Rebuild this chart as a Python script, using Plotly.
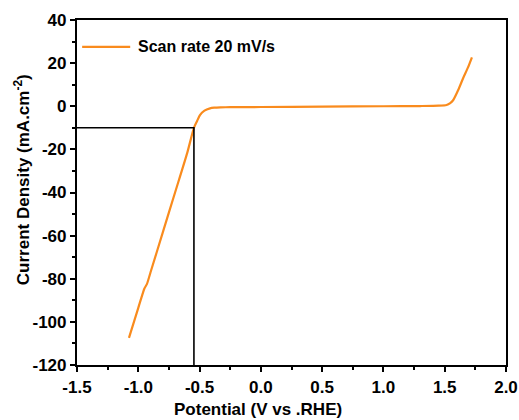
import plotly.graph_objects as go

# LSV curve
potential = [-1.076, -1.0, -0.95, -0.93, -0.9, -0.8, -0.7, -0.6, -0.546, -0.52, -0.497,
             -0.46, -0.415, -0.38, -0.33, -0.25, 0.0, 0.5, 1.0, 1.3, 1.45, 1.515,
             1.545, 1.57, 1.61, 1.65, 1.69, 1.722]
current = [-107.4, -93.5, -84.5, -82.5, -77.0, -58.5, -40.0, -21.5, -10.0, -6.8, -4.1,
           -2.0, -0.96, -0.65, -0.5, -0.45, -0.35, -0.2, 0.0, 0.1, 0.25, 0.6,
           1.5, 2.9, 7.5, 13.0, 18.0, 22.7]

# guide lines marking -10 mA/cm2
ref_current = -10
ref_potential = -0.546

x_range = [-1.5, 2.0]
y_range = [-120, 40]
x_ticks = [-1.5, -1.0, -0.5, 0.0, 0.5, 1.0, 1.5, 2.0]
y_ticks = [-120, -100, -80, -60, -40, -20, 0, 20, 40]

legend_label = "Scan rate 20 mV/s"
x_title = "Potential (V vs .RHE)"
y_title = "Current Density (mA.cm<sup>-2</sup>)"
orange = "#F98B1D"
font = "Liberation Sans, Arial, sans-serif"

fig = go.Figure()
fig.add_trace(go.Scatter(x=potential, y=current, mode="lines",
                         line=dict(color=orange, width=2.2, shape="spline", smoothing=0.6),
                         name=legend_label, showlegend=False))
fig.add_trace(go.Scatter(x=[x_range[0], ref_potential, ref_potential],
                         y=[ref_current, ref_current, y_range[0]], mode="lines",
                         line=dict(color="black", width=1.6), showlegend=False))

# manual legend
fig.add_shape(type="line", xref="paper", yref="paper", x0=0.012, x1=0.124, y0=0.922, y1=0.922,
              line=dict(color=orange, width=2.2))
fig.add_annotation(xref="paper", yref="paper", x=0.138, y=0.922, xanchor="left", yanchor="middle",
                   text="<b>" + legend_label + "</b>", showarrow=False,
                   font=dict(family=font, size=16, color="black"))

# axis titles (positioned as in the reference)
fig.add_annotation(xref="paper", yref="paper", x=0.422, y=-0.130, xanchor="center", yanchor="middle",
                   text="<b>" + x_title + "</b>", showarrow=False,
                   font=dict(family=font, size=17, color="black"))
fig.add_annotation(xref="paper", yref="paper", x=-0.128, y=0.536, xanchor="center", yanchor="middle",
                   text="<b>" + y_title + "</b>", showarrow=False, textangle=-90,
                   font=dict(family=font, size=17, color="black"))

axis_common = dict(showgrid=False, zeroline=False, showline=True, linecolor="black", linewidth=2.2,
                   mirror=True, ticks="outside", ticklen=5, tickwidth=1.6, tickcolor="black",
                   automargin=False,
                   tickfont=dict(family=font, size=17, color="black"))
fig.update_xaxes(range=x_range, tickvals=x_ticks, ticktext=[f"<b>{v:.1f}</b>" for v in x_ticks],
                 minor=dict(ticks="outside", ticklen=3, tickwidth=1.6, tickcolor="black", dtick=0.25),
                 **axis_common)
fig.update_yaxes(range=y_range, tickvals=y_ticks, ticktext=[f"<b>{v}</b>" for v in y_ticks],
                 minor=dict(ticks="outside", ticklen=3, tickwidth=1.6, tickcolor="black", dtick=10),
                 **axis_common)
fig.update_layout(width=519, height=420, margin=dict(l=77, r=13, t=20, b=55),
                  plot_bgcolor="white", paper_bgcolor="white")
fig.write_html("out.html")
